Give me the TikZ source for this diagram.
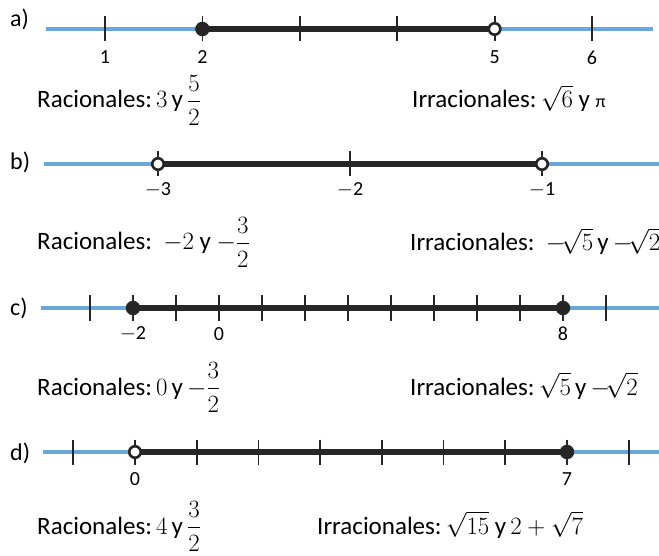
\documentclass[tikz,border=0pt]{standalone}
\usepackage{amsmath}
\usepackage{fontspec}
\setmainfont{Carlito}
\usepackage{tikz}

\definecolor{azulrecta}{HTML}{6AA6DC}
\definecolor{tramo}{HTML}{262626}
\tikzset{
  recta/.style={line width=4.5pt, azulrecta},
  intervalo/.style={line width=5.5pt, tramo},
  marca/.style={line width=1.8pt, tramo},
  lleno/.style={circle, fill=tramo, inner sep=0pt, minimum size=14.5pt},
  hueco/.style={circle, draw=tramo, fill=white, line width=2.6pt, inner sep=0pt, minimum size=11.5pt},
  num/.style={font=\fontsize{20}{20}\selectfont, inner sep=0pt},
  inciso/.style={font=\fontsize{24}{24}\selectfont, anchor=base west, inner sep=0pt},
  texto/.style={font=\fontsize{25}{30}\selectfont, anchor=base west, inner sep=0pt}
}

\begin{document}
\begin{tikzpicture}[x=1pt,y=-1pt]
\useasboundingbox (0,0) rectangle (659,556);

% a) intervalo [2,5)
\node[inciso] (ia) at (10,27) {a)};
\coordinate (a-ini) at (46,29);
\coordinate (a-fin) at (653,29);
\coordinate (a2) at (202.4,29);
\coordinate (a5) at (494.6,29);
\draw[recta] (a-ini) -- (a-fin);
\draw[intervalo] (a2) -- (a5);
\foreach \k in {1,...,6}
  \draw[marca] ({105+97.4*(\k-1)},16.5) -- ++(0,25);
\node[lleno] (pa2) at (a2) {};
\node[hueco] (pa5) at (a5) {};
\foreach \k/\nom in {1/a1,2/a2,5/a5,6/a6}
  \node[num] (n\nom) at ({105+97.4*(\k-1)},57.5) {\k};
\node[texto] (ra) at (37,108) {Racionales:$\,3\,$y$\,\dfrac{5}{2}$};
\node[texto] (irra) at (412,108) {Irracionales:$\,\sqrt{6}$ y {\fontsize{18}{18}\selectfont π}};

% b) intervalo (-3,-1)
\node[inciso] (ib) at (10,170) {b)};
\coordinate (b-ini) at (44,164);
\coordinate (b-fin) at (659,164);
\coordinate (b3) at (158,164);
\coordinate (b1) at (542,164);
\draw[recta] (b-ini) -- (b-fin);
\draw[intervalo] (b3) -- (b1);
\foreach \k in {-3,-2,-1}
  \draw[marca] ({542+192*(\k+1)},151.5) -- ++(0,25);
\node[hueco] (pb3) at (b3) {};
\node[hueco] (pb1) at (b1) {};
\foreach \k/\nom in {-3/b3,-2/b2,-1/b1}
  \node[num] (n\nom) at ({542+192*(\k+1)},190) {$-$\the\numexpr-\k\relax};
\node[texto] (rb) at (37,250) {Racionales:\ \ $-2$ y $-\dfrac{3}{2}$};
\node[texto] (irrb) at (410,251) {Irracionales:\ \ $-\!\sqrt{5}\,$y$\,-\!\sqrt{2}$};

% c) intervalo [-2,8]
\node[inciso] (ic) at (10,316) {c)};
\coordinate (c-ini) at (41,308);
\coordinate (c-fin) at (659,308);
\coordinate (c2) at (133,308);
\coordinate (c8) at (563,308);
\draw[recta] (c-ini) -- (c-fin);
\draw[intervalo] (c2) -- (c8);
\foreach \k in {-3,...,9}
  \draw[marca] ({219+43*\k},295.5) -- ++(0,25);
\node[lleno] (pc2) at (c2) {};
\node[lleno] (pc8) at (c8) {};
\node[num] (nc2) at (133,334) {$-$2};
\node[num] (nc0) at (219,334) {0};
\node[num] (nc8) at (563,334) {8};
\node[texto] (rc) at (37,395) {Racionales:$\,0\,$y$\,-\dfrac{3}{2}$};
\node[texto] (irrc) at (410,395) {Irracionales:$\,\sqrt{5}\,$y$\,-\!\sqrt{2}$};

% d) intervalo (0,7]
\node[inciso] (id) at (10,460) {d)};
\coordinate (d-ini) at (43,452);
\coordinate (d-fin) at (659,452);
\coordinate (d0) at (135,452);
\coordinate (d7) at (567,452);
\draw[recta] (d-ini) -- (d-fin);
\draw[intervalo] (d0) -- (d7);
\foreach \k in {-1,...,8}
  \draw[marca] ({135+61.7*\k},439.5) -- ++(0,25);
\node[hueco] (pd0) at (d0) {};
\node[lleno] (pd7) at (d7) {};
\node[num] (nd0) at (135,479) {0};
\node[num] (nd7) at (567,479) {7};
\node[texto] (rd) at (37,534) {Racionales:$\,4\,$y$\,\dfrac{3}{2}$};
\node[texto] (irrd) at (317,534) {Irracionales:$\,\sqrt{15}$ y$\,2+\sqrt{7}$};
\end{tikzpicture}
\end{document}
